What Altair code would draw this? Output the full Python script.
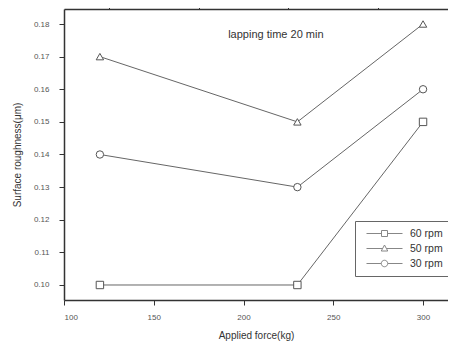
import altair as alt
import pandas as pd

force = [120, 230, 300]
series_names = ["60 rpm", "50 rpm", "30 rpm"]
rough_60 = [0.10, 0.10, 0.15]
rough_50 = [0.17, 0.15, 0.18]
rough_30 = [0.14, 0.13, 0.16]
x_major = [100, 150, 200, 250, 300]
x_minor = [125, 175, 225, 275]
y_ticks = [0.10, 0.11, 0.12, 0.13, 0.14, 0.15, 0.16, 0.17, 0.18]
note_text = ["lapping time 20 min"]
note_x = [218]
note_y = [0.1766]

rows = []
for name, vals in zip(series_names, [rough_60, rough_50, rough_30]):
    for f, v in zip(force, vals):
        rows.append({"force": f, "rough": v, "rpm": name})
df = pd.DataFrame(rows)
note_df = pd.DataFrame({"x": note_x, "y": note_y, "t": note_text})

FONT = "Liberation Sans"
xs = alt.Scale(domain=[100, 313.9], nice=False, zero=False)
ys = alt.Scale(domain=[0.0954, 0.1846], nice=False, zero=False)

lines = alt.Chart(df).mark_line(color="#666", strokeWidth=1).encode(
    x=alt.X("force:Q", scale=xs, axis=alt.Axis(values=x_major, format="d", title="Applied force(kg)",
                                                tickSize=5, labelPadding=8, titlePadding=9)),
    y=alt.Y("rough:Q", scale=ys, axis=alt.Axis(values=y_ticks, format=".2f", title="Surface roughness(μm)",
                                                tickSize=5, labelPadding=10, titlePadding=11)),
    detail="rpm:N",
)

points = alt.Chart(df).mark_point(filled=True, fill="white", stroke="#555", strokeWidth=1, size=55, opacity=1).encode(
    x=alt.X("force:Q", scale=xs, axis=alt.Axis(values=x_minor, labels=False, domain=False, title=None, tickSize=3)),
    y=alt.Y("rough:Q", scale=ys, axis=None),
    shape=alt.Shape("rpm:N", scale=alt.Scale(domain=series_names, range=["square", "triangle-up", "circle"]), legend=None),
)

sq = "M-3.6,0H-0.6M0.6,0H3.6M-0.6,-0.6H0.6V0.6H-0.6Z"
tri = "M-3.6,0H-0.4M0.4,0H3.6M0,-0.7L0.65,0.5H-0.65Z"
cir = "M-3.6,0H-0.65M0.65,0H3.6M0.65,0A0.65,0.65,0,1,1,-0.65,0A0.65,0.65,0,1,1,0.65,0Z"

legend_layer = alt.Chart(df).transform_filter("false").mark_point(filled=False, color="#555", strokeWidth=1, size=100).encode(
    x=alt.X("force:Q", scale=xs, axis=None),
    y=alt.Y("rough:Q", scale=ys, axis=None),
    shape=alt.Shape("rpm:N", scale=alt.Scale(domain=series_names, range=[sq, tri, cir]),
                    legend=alt.Legend(title=None, orient="none", legendX=291, legendY=212,
                                      strokeColor="#666", fillColor="white", padding=7,
                                      labelFontSize=10.5, labelColor="#333", labelFont=FONT,
                                      symbolOffset=17, labelOffset=20, rowPadding=4,
                                      symbolStrokeWidth=1, symbolStrokeColor="#555")),
)

note = alt.Chart(note_df).mark_text(font=FONT, fontSize=11, color="#333").encode(
    x=alt.X("x:Q", scale=xs, axis=alt.Axis(orient="top", ticks=False, labels=False, title=None)),
    y=alt.Y("y:Q", scale=ys, axis=None),
    text="t:N",
)

chart = alt.layer(lines, points, legend_layer, note).resolve_axis(
    x="independent", y="independent"
).resolve_scale(shape="independent").properties(
    width=384, height=291,
    padding={"left": 56, "top": 1, "right": 0, "bottom": 44},
    autosize=alt.AutoSizeParams(type="none"),
).configure_view(stroke=None).configure_axis(
    domainColor="#333", domainWidth=1.5, tickColor="#333", tickWidth=1, grid=False,
    labelFont=FONT, labelFontSize=8, labelColor="#555",
    titleFont=FONT, titleFontSize=10, titleFontWeight="normal", titleColor="#333",
)

chart.save("out.html", embed_options={"renderer": "svg", "actions": False})
